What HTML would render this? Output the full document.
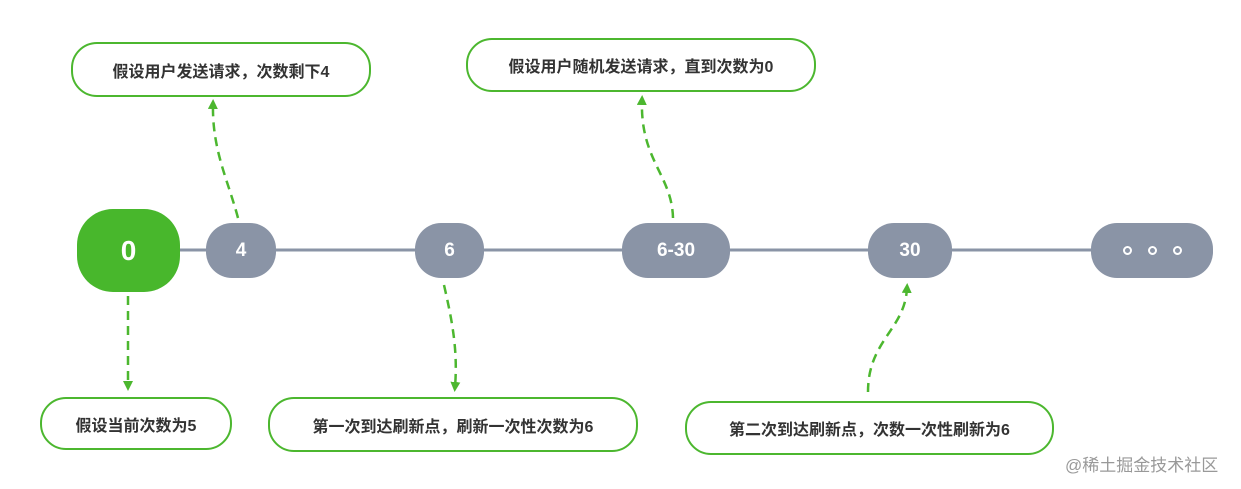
<!DOCTYPE html>
<html><head><meta charset="utf-8"><style>
body{margin:0;width:1241px;height:489px;background:#fff;position:relative;overflow:hidden;font-family:"Liberation Sans","Noto Sans CJK SC",sans-serif;}
.n{position:absolute;background:#8a94a6;color:#fff;font-weight:bold;font-size:19px;display:flex;align-items:center;justify-content:center;border-radius:26px;top:223px;height:55px;}
.b{position:absolute;border:2.5px solid #4cb72f;border-radius:26px;box-sizing:border-box;background:#fff;color:#333;font-weight:bold;font-size:16px;display:flex;align-items:center;justify-content:center;}
.d{display:inline-block;width:5px;height:5px;border:2px solid #fff;border-radius:50%;margin:0 8px;}
</style></head><body>
<svg width="1241" height="489" style="position:absolute;left:0;top:0">
<defs><marker id="a" markerWidth="10" markerHeight="10" refX="5" refY="5" orient="auto" markerUnits="userSpaceOnUse"><path d="M0,0 L10,5 L0,10 z" fill="#4cb72f"/></marker></defs>
<line x1="180" y1="250" x2="1092" y2="250" stroke="#8a94a6" stroke-width="3"/>
<g stroke="#4cb72f" stroke-width="2.5" fill="none" stroke-dasharray="9,6" marker-end="url(#a)">
<path d="M238,218 C228,180 212,150 213,104"/>
<path d="M673,218 C672,175 640,160 642,100"/>
<path d="M128,296 L128,386"/>
<path d="M444,285 C452,320 458,350 455,387"/>
<path d="M868,392 C868,340 905,330 907,288"/>
</g>
</svg>
<div class="n" style="left:77px;top:209px;width:103px;height:83px;border-radius:36px;background:#48b72c;font-size:28px">0</div>
<div class="n" style="left:206px;width:70px">4</div>
<div class="n" style="left:415px;width:69px">6</div>
<div class="n" style="left:622px;width:108px">6-30</div>
<div class="n" style="left:868px;width:84px">30</div>
<div class="n" style="left:1091px;width:122px"><span class="d"></span><span class="d"></span><span class="d"></span></div>
<div class="b" style="left:71px;top:42px;width:300px;height:55px">假设用户发送请求，次数剩下4</div>
<div class="b" style="left:466px;top:38px;width:350px;height:54px">假设用户随机发送请求，直到次数为0</div>
<div class="b" style="left:40px;top:397px;width:192px;height:53px">假设当前次数为5</div>
<div class="b" style="left:268px;top:397px;width:370px;height:55px">第一次到达刷新点，刷新一次性次数为6</div>
<div class="b" style="left:685px;top:401px;width:369px;height:54px">第二次到达刷新点，次数一次性刷新为6</div>
<div style="position:absolute;left:1065px;top:451px;color:#999;font-size:17px">@稀土掘金技术社区</div>
</body></html>
